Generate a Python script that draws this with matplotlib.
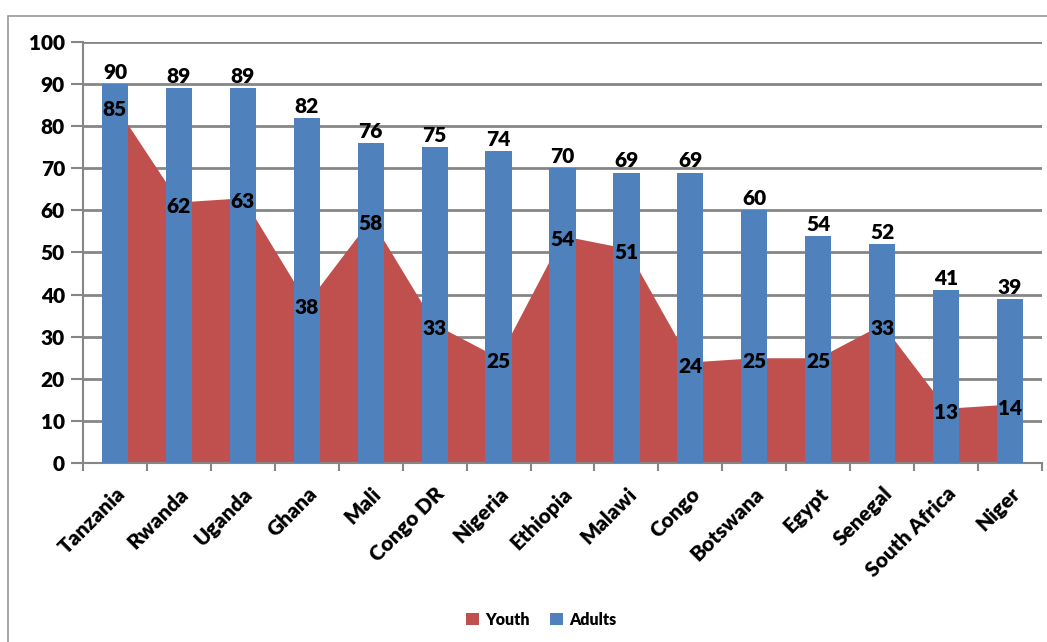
import numpy as np
import matplotlib.pyplot as plt
from matplotlib.patches import Rectangle

# Share (%) per country, youth vs adults
paises = ['Tanzania', 'Rwanda', 'Uganda', 'Ghana', 'Mali', 'Congo DR', 'Nigeria',
          'Ethiopia', 'Malawi', 'Congo', 'Botswana', 'Egypt', 'Senegal',
          'South Africa', 'Niger']
adultos = [90, 89, 89, 82, 76, 75, 74, 70, 69, 69, 60, 54, 52, 41, 39]
jovenes = [85, 62, 63, 38, 58, 33, 25, 54, 51, 24, 25, 25, 33, 13, 14]

rojo = '#C0504D'
azul = '#4F81BD'
gris = '#868686'
fuente = 'Lato'

fig = plt.figure(figsize=(10.47, 6.42), dpi=100)
ax = fig.add_axes([0.0793, 0.2788, 0.9159, 0.6558])

# marco exterior del grafico
fig.patches.append(Rectangle((0.0076, -0.05), 1.2, 1.025, transform=fig.transFigure,
                             fill=False, edgecolor='#9a9a9a', linewidth=1.2))

x = np.arange(len(paises))

ax.fill_between(x, jovenes, 0, color=rojo, linewidth=0, zorder=2, label='Youth')
ax.bar(x, adultos, width=0.41, color=azul, zorder=3, label='Adults')

# etiquetas de valores
for i, v in enumerate(adultos):
    ax.text(i, v + 0.5, str(v), ha='center', va='bottom', fontsize=15,
            fontweight='heavy', family=fuente, color='black', zorder=5)
for i, v in enumerate(jovenes):
    ax.text(i, v - 1, str(v), ha='center', va='center', fontsize=15,
            fontweight='heavy', family=fuente, color='black', zorder=5)

ax.set_xlim(-0.5, len(paises) - 0.5)
ax.set_ylim(0, 100)
ax.set_yticks(range(0, 101, 10))
ax.yaxis.grid(True, color=gris, linewidth=2)
ax.set_axisbelow(True)

ax.set_xticks(x)
ax.set_xticklabels(paises, rotation=45, ha='right', va='top',
                   rotation_mode='anchor', fontsize=15, fontweight='heavy',
                   family=fuente)
ax.set_xticks(np.arange(-0.5, len(paises)), minor=True)
ax.tick_params(axis='x', which='major', length=0, pad=15)
ax.tick_params(axis='x', which='minor', length=6, width=1.5, color=gris)
ax.tick_params(axis='y', length=9, width=1.5, color=gris, pad=4)
for lbl in ax.get_yticklabels():
    lbl.set_fontsize(15)
    lbl.set_fontweight('heavy')
    lbl.set_family(fuente)

for lado in ['top', 'right']:
    ax.spines[lado].set_visible(False)
for lado in ['left', 'bottom']:
    ax.spines[lado].set_color(gris)
    ax.spines[lado].set_linewidth(1.5)

ley = fig.legend(loc='center', bbox_to_anchor=(0.517, 0.035), ncol=2, frameon=False,
                 prop={'family': fuente, 'weight': 'heavy', 'size': 11.5},
                 handlelength=0.8, handleheight=0.8, handletextpad=0.4,
                 columnspacing=1.3)

fig.savefig('out.png', dpi=100)
